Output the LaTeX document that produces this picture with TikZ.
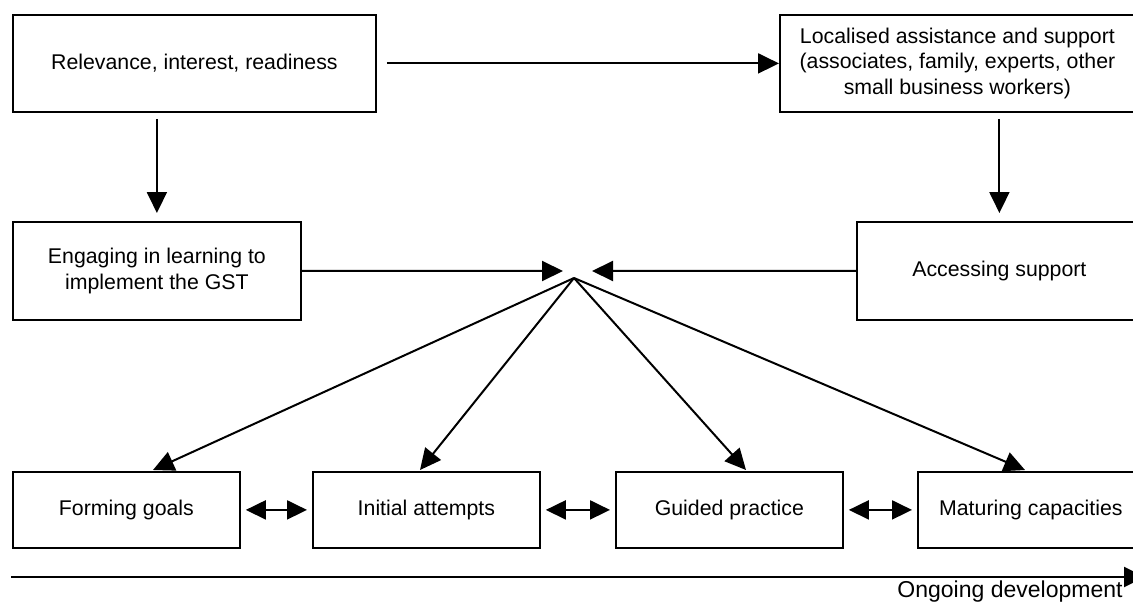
\documentclass[tikz,border=0pt]{standalone}
\usepackage{fontspec}
\setmainfont{Liberation Sans}
\usetikzlibrary{arrows.meta}
\begin{document}
\begin{tikzpicture}[x=1pt,y=-1pt,
  box/.style={draw=black, line width=1.8pt, anchor=north west, align=center,
    inner sep=0pt, font=\fontsize{21.3}{25.5}\selectfont},
  arr/.style={line width=2pt, -{Triangle[length=21pt,width=20pt]}},
  darr/.style={line width=2pt, {Triangle[length=20pt,width=19pt]}-{Triangle[length=20pt,width=19pt]}, shorten <=5pt, shorten >=5pt}]
\useasboundingbox (0,0) rectangle (1133,603);
\clip (0,0) rectangle (1133,603);
% boxes
\node[box, minimum width=363pt, minimum height=97pt] (rel) at (12,14) {Relevance, interest, readiness};
\node[box, minimum width=355pt, minimum height=97pt] (loc) at (779,14) {Localised assistance and support\\(associates, family, experts, other\\small business workers)};
\node[box, minimum width=288pt, minimum height=98pt] (eng) at (12,221) {Engaging in learning to\\implement the GST};
\node[box, minimum width=285pt, minimum height=98pt] (acc) at (856,221) {Accessing support};
\node[box, minimum width=227pt, minimum height=76pt] (fg) at (12,471) {Forming goals};
\node[box, minimum width=227pt, minimum height=76pt] (ia) at (312,471) {Initial attempts};
\node[box, minimum width=227pt, minimum height=76pt] (gp) at (615,471) {Guided practice};
\node[box, minimum width=226pt, minimum height=76pt] (mc) at (917,471) {Maturing capacities};
% coordinates
\coordinate (cl) at (563,271);
\coordinate (cr) at (592,271);
\coordinate (apex) at (574,278);
\coordinate (tfg) at (153,470);
\coordinate (tia) at (420,470);
\coordinate (tgp) at (746,470);
\coordinate (tmc) at (1025,470);
\coordinate (os) at (11,577);
\coordinate (oe) at (1145,577);
% connectors
\draw[arr, shorten <=10pt] (rel.east) -- (loc.west);
\draw[arr, shorten <=6pt, shorten >=8pt] (eng.north |- rel.south) -- (eng.north);
\draw[arr, shorten <=6pt, shorten >=8pt] (acc.north |- loc.south) -- (acc.north);
\draw[arr] (eng.east) -- (cl);
\draw[arr] (acc.west) -- (cr);
\draw[arr] (apex) -- (tfg);
\draw[arr] (apex) -- (tia);
\draw[arr] (apex) -- (tgp);
\draw[arr] (apex) -- (tmc);
\draw[darr] (fg.east) -- (ia.west);
\draw[darr] (ia.east) -- (gp.west);
\draw[darr] (gp.east) -- (mc.west);
\draw[arr] (os) -- (oe);
\node[anchor=base, inner sep=0pt, font=\fontsize{23}{27}\selectfont] (ong) at (1010,597) {Ongoing development};
\end{tikzpicture}
\end{document}
